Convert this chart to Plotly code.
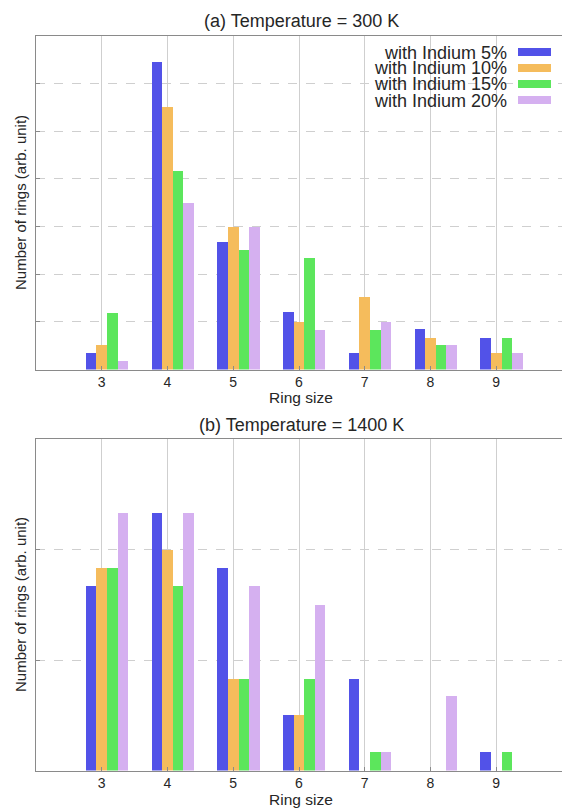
import plotly.graph_objects as go

# ---------------- data ----------------
ring_sizes = [3, 4, 5, 6, 7, 8, 9]
series_names = ["with Indium 5%", "with Indium 10%", "with Indium 15%", "with Indium 20%"]
series_colors = ["#5252e8", "#f5bc5c", "#5ce65c", "#d5b0f0"]

# (a) Temperature = 300 K
t300_in5 = [0.35, 6.46, 2.67, 1.20, 0.35, 0.84, 0.66]
t300_in10 = [0.52, 5.50, 3.00, 1.00, 1.52, 0.66, 0.34]
t300_in15 = [1.19, 4.16, 2.50, 2.33, 0.82, 0.52, 0.66]
t300_in20 = [0.17, 3.50, 3.00, 0.82, 1.00, 0.52, 0.34]

# (b) Temperature = 1400 K
t1400_in5 = [1.67, 2.33, 1.83, 0.50, 0.83, 0.00, 0.17]
t1400_in10 = [1.83, 2.00, 0.83, 0.50, 0.00, 0.00, 0.00]
t1400_in15 = [1.83, 1.67, 0.83, 0.83, 0.17, 0.00, 0.17]
t1400_in20 = [2.33, 2.33, 1.67, 1.50, 0.17, 0.67, 0.00]

panel_titles = ["(a) Temperature = 300 K", "(b) Temperature = 1400 K"]
x_title = "Ring size"
y_title = "Number of rings (arb. unit)"

# ---------------- layout constants ----------------
W, H = 562, 808
FONT = "Liberation Sans, Arial, Helvetica, sans-serif"
TXT = "#262626"
GRID = "#cfcfcf"
AXLINE = "#8a8a8a"
bar_w = 0.16
offsets = [-0.24, -0.08, 0.08, 0.24]


def py(px):
    return 1 - px / H


def px_x(px):
    return px / W


fig = go.Figure()

panels = [
    ([t300_in5, t300_in10, t300_in15, t300_in20], "x", "y"),
    ([t1400_in5, t1400_in10, t1400_in15, t1400_in20], "x2", "y2"),
]
for series, xa, ya in panels:
    for name, vals, col, off in zip(series_names, series, series_colors, offsets):
        fig.add_trace(go.Bar(
            x=ring_sizes, y=vals, name=name, width=bar_w, offset=off,
            marker=dict(color=col, line=dict(width=0)),
            xaxis=xa, yaxis=ya, showlegend=False,
        ))

xdom = [px_x(36), 1.0]
common_x = dict(
    range=[2, 10], domain=xdom, tickmode="array", tickvals=ring_sizes,
    ticktext=[str(v) for v in ring_sizes],
    showgrid=True, gridcolor=GRID, gridwidth=1,
    showline=True, linecolor=AXLINE, linewidth=1, mirror=True,
    ticks="inside", ticklen=4, tickcolor=AXLINE,
    tickfont=dict(family=FONT, size=14, color=TXT),
    zeroline=False, fixedrange=True,
)
common_y = dict(
    showgrid=True, gridcolor=GRID, griddash="dash", gridwidth=1,
    showline=True, linecolor=AXLINE, linewidth=1, mirror=False,
    ticks="inside", ticklen=4, tickcolor=AXLINE,
    showticklabels=False, zeroline=False, fixedrange=True, dtick=1,
)

fig.update_layout(
    width=W, height=H,
    margin=dict(l=0, r=0, t=0, b=0),
    paper_bgcolor="white", plot_bgcolor="white",
    barmode="overlay", bargap=0,
    font=dict(family=FONT, color=TXT),
    showlegend=False,
    xaxis=dict(common_x, anchor="y"),
    yaxis=dict(common_y, range=[0, 7], domain=[py(369.5), py(36)], anchor="x"),
    xaxis2=dict(common_x, anchor="y2"),
    yaxis2=dict(common_y, range=[0, 3], domain=[py(770.5), py(439)], anchor="x2"),
)

annotations = []
# panel titles
for title, ypix in zip(panel_titles, [21.5, 425]):
    annotations.append(dict(text=title, x=px_x(301), y=py(ypix), xref="paper", yref="paper",
                            xanchor="center", yanchor="middle", showarrow=False,
                            font=dict(family=FONT, size=18, color=TXT)))
# x axis titles
for ypix in [397, 799]:
    annotations.append(dict(text=x_title, x=px_x(301), y=py(ypix), xref="paper", yref="paper",
                            xanchor="center", yanchor="middle", showarrow=False,
                            font=dict(family=FONT, size=15.5, color=TXT)))
# y axis titles
for ypix in [203, 605]:
    annotations.append(dict(text=y_title, x=px_x(20), y=py(ypix), xref="paper", yref="paper",
                            xanchor="center", yanchor="middle", showarrow=False, textangle=-90,
                            font=dict(family=FONT, size=15, color=TXT)))

# legend (text with swatch on the right, as in the original)
shapes = []
legend_rows = [52, 68, 84, 100]
for name, col, ypix in zip(series_names, series_colors, legend_rows):
    annotations.append(dict(text=name, x=px_x(509), y=py(ypix), xref="paper", yref="paper",
                            xanchor="right", yanchor="middle", showarrow=False,
                            height=15, valign="middle",
                            font=dict(family=FONT, size=18, color=TXT)))
    shapes.append(dict(type="rect", xref="paper", yref="paper",
                       x0=px_x(518), x1=px_x(551), y0=py(ypix + 4), y1=py(ypix - 4),
                       fillcolor=col, line=dict(width=0)))

fig.update_layout(annotations=annotations, shapes=shapes)

fig.write_html(
    "out.html",
    config={"displayModeBar": False},
    post_script="document.documentElement.style.overflow='hidden';"
                "document.body.style.margin='0';document.body.style.overflow='hidden';",
)
